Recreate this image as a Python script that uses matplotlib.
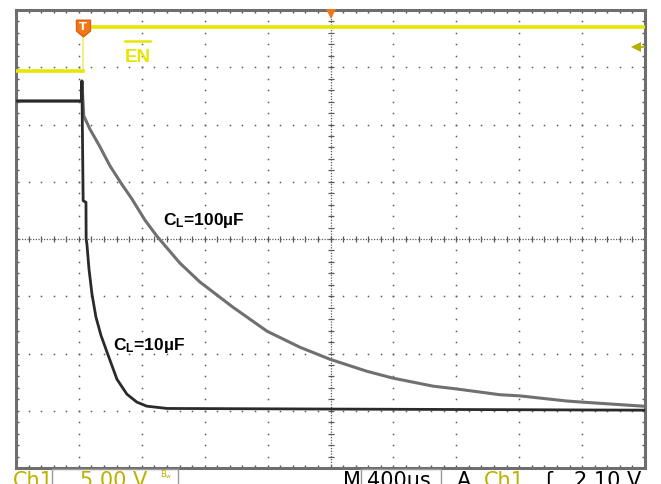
import numpy as np
import matplotlib
matplotlib.use("Agg")
import matplotlib.pyplot as plt
from matplotlib.path import Path
from matplotlib.patches import Rectangle

plt.rcParams['mathtext.fontset'] = 'custom'
plt.rcParams['mathtext.bf'] = 'Liberation Sans:bold'
plt.rcParams['mathtext.rm'] = 'Liberation Sans:bold'

# scope settings
time_per_div = 400          # us / div
ch1_volts_per_div = 5.0     # V / div
ch1_offset_div = 2.93       # screen position of Ch1 0 V
trigger_level = 2.10        # V
screen_t0 = -400            # us at left edge of screen
n_hdiv = 10
n_vdiv = 8

# Ch1 : EN (V)
en_t = [-400, 23, 23, 3600]
en_v = [0.0, 0.0, 3.85, 3.85]
trigger_t = 23

# output, C_L = 10uF (screen divisions)
out10_t = [-400, 18, 19, 27, 45, 46, 51, 64, 83, 108, 140, 178, 242, 305, 369, 432, 560, 3600]
out10_y = [2.41, 2.41, 2.76, 0.67, 0.64, 0.0, -0.09, -0.52, -0.96, -1.36, -1.68, -1.97, -2.45,
           -2.71, -2.85, -2.92, -2.96, -2.99]

# output, C_L = 100uF (screen divisions)
out100_t = [-400, 18, 19, 31, 70, 134, 197, 267, 337, 420, 496, 642, 769, 979, 1196, 1405, 1596,
            1831, 1997, 2251, 2404, 2677, 2804, 3103, 3205, 3587]
out100_y = [2.41, 2.41, 2.76, 2.15, 1.92, 1.61, 1.28, 0.98, 0.70, 0.33, 0.05, -0.42, -0.75, -1.19,
            -1.61, -1.89, -2.10, -2.31, -2.43, -2.57, -2.62, -2.72, -2.74, -2.83, -2.85, -2.92]

W, H = 661, 485
fig = plt.figure(figsize=(W / 100, H / 100), dpi=100)
ax = fig.add_axes([16 / W, 1 - 469 / H, (645 - 16) / W, (469 - 11) / H])

t_end = screen_t0 + n_hdiv * time_per_div
t_mid = screen_t0 + n_hdiv * time_per_div / 2
ax.set_xlim(screen_t0, t_end)
ax.set_ylim(-n_vdiv / 2, n_vdiv / 2)

grid_c = '#5a5a5a'
# graticule: dotted grid lines
x_fine = np.arange(screen_t0, t_end + 1, time_per_div / 5)
y_fine = np.arange(-n_vdiv / 2, n_vdiv / 2 + 0.01, 0.2)
for k in range(1, n_hdiv):
    x = screen_t0 + k * time_per_div
    if x == t_mid:
        continue
    ax.plot(np.full_like(y_fine, x), y_fine, 's', ms=1.1, mew=0, color=grid_c)
for k in range(1, n_vdiv):
    y = -n_vdiv / 2 + k
    if y == 0:
        continue
    ax.plot(x_fine, np.full_like(x_fine, y), 's', ms=1.1, mew=0, color=grid_c)

# center cross with small ticks
ax.axhline(0, ls=(0, (1, 1.2)), lw=0.9, color=grid_c)
ax.axvline(t_mid, ls=(0, (1, 1.2)), lw=0.9, color=grid_c)
ax.plot(x_fine, np.zeros_like(x_fine), '|', ms=4.5, mew=0.9, color=grid_c)
ax.plot(np.full_like(y_fine, t_mid), y_fine, '_', ms=4.5, mew=0.9, color=grid_c)

# border
for s in ax.spines.values():
    s.set_color('#6e6e6e')
    s.set_linewidth(2.2)
ax.set_xticks(np.arange(screen_t0, t_end + 1, time_per_div))
ax.set_xticks(x_fine, minor=True)
ax.set_yticks(np.arange(-4, 5, 1))
ax.set_yticks(y_fine, minor=True)
ax.tick_params(which='both', direction='in', top=True, right=True, length=2.5,
               width=1, color='#555555', labelbottom=False, labelleft=False)

# Ch1 trace
en_y = [ch1_offset_div + v / ch1_volts_per_div for v in en_v]
ylw = '#e6e600'
ax.plot(en_t, en_y, color='#eeee70', lw=1.2, zorder=3)
ax.plot(en_t[:2], en_y[:2], color=ylw, lw=2.6, zorder=3)
ax.plot(en_t[2:], en_y[2:], color=ylw, lw=2.6, zorder=3)

# output traces
ax.plot(out100_t, out100_y, color='#707070', lw=2.2, zorder=4)
ax.plot(out10_t, out10_y, color='#2a2a2a', lw=2.0, zorder=5)

# labels
ax.text(534, 0.26, r'$\mathbf{C_L}$=100µF', fontsize=12.5, fontweight='bold',
        family='Liberation Sans', color='black', zorder=6)
ax.text(214, -1.92, r'$\mathbf{C_L}$=10µF', fontsize=12.5, fontweight='bold',
        family='Liberation Sans', color='black', zorder=6)
ax.text(292, 3.11, 'EN', fontsize=13.5, fontweight='bold', family='Liberation Sans',
        color=ylw, zorder=6)
ax.plot([292, 451], [3.46, 3.46], color=ylw, lw=1.8, zorder=6)

# trigger marker (T)
tpath = Path([(-0.42, 0.5), (0.42, 0.5), (0.42, -0.15), (0, -0.5), (-0.42, -0.15), (-0.42, 0.5)],
             [Path.MOVETO, Path.LINETO, Path.LINETO, Path.LINETO, Path.LINETO, Path.CLOSEPOLY])
ax.plot([trigger_t], [3.69], marker=tpath, ms=12, color='#f07818', mec='#e06010', zorder=7)
ax.text(trigger_t, 3.72, 'T', ha='center', va='center', fontsize=8, fontweight='bold',
        color='white', family='DejaVu Sans', zorder=8)

# horizontal position marker
ax.plot([t_mid], [3.93], marker='v', ms=7, color='#f07818', mew=0, clip_on=False, zorder=7)

# trigger level marker on the right
trig_y = ch1_offset_div + trigger_level / ch1_volts_per_div
ax.plot([3545], [trig_y], marker='<', ms=7, color='#b5ad00', mew=0, zorder=7)
ax.plot([3545, t_end], [trig_y, trig_y], color='#b5ad00', lw=1.2, zorder=7)

# status line (cut off at the bottom edge, as on the scope screenshot)
def fx(x):
    return x / W

def fy(y):
    return 1 - y / H

olive = '#bcb000'
base = fy(487)
fig.text(fx(13), base, 'Ch1', fontsize=15, color=olive, va='baseline')
fig.add_artist(Rectangle((fx(52), fy(495)), fx(178) - fx(52), fy(470) - fy(495),
                         transform=fig.transFigure, fill=False, ec='#9a9a9a', lw=1))
fig.text(fx(80), base, '5.00 V', fontsize=15, color=olive, va='baseline')
fig.text(fx(160), fy(478), r'B$_\mathregular{w}$', fontsize=6, color=olive, va='baseline',
         family='DejaVu Sans')
fig.text(fx(343), base, 'M', fontsize=15, color='black', va='baseline')
fig.add_artist(Rectangle((fx(361), fy(495)), fx(441) - fx(361), fy(470) - fy(495),
                         transform=fig.transFigure, fill=False, ec='#9a9a9a', lw=1))
fig.text(fx(367), base, '400us', fontsize=15, color='black', va='baseline')
fig.text(fx(457), base, 'A', fontsize=15, color='black', va='baseline')
fig.text(fx(484), base, 'Ch1', fontsize=15, color=olive, va='baseline')
fig.text(fx(545), base, 'ʃ', fontsize=15, color='black', va='baseline')
fig.text(fx(574), base, '2.10 V', fontsize=15, color='black', va='baseline')

fig.savefig('out.png', dpi=100)
